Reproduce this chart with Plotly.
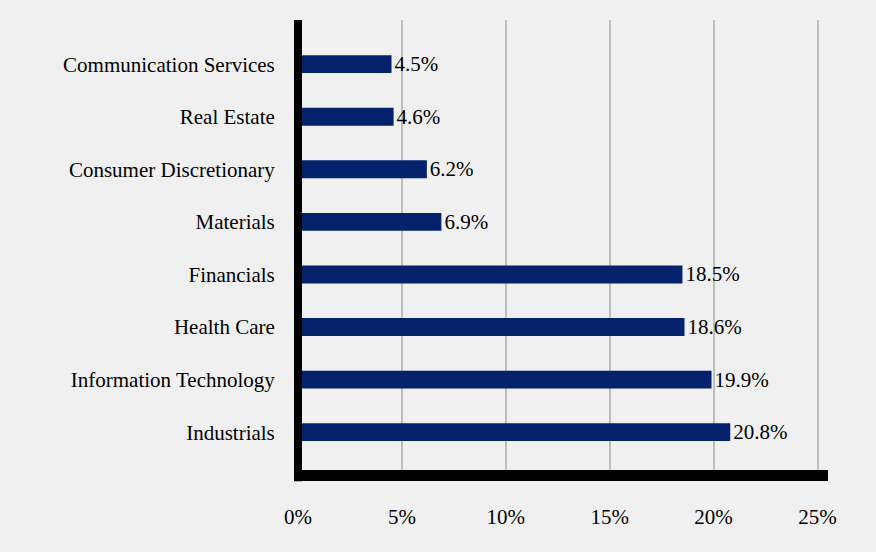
import plotly.graph_objects as go

sectors = ["Industrials", "Information Technology", "Health Care", "Financials",
           "Materials", "Consumer Discretionary", "Real Estate", "Communication Services"]
weights = [20.8, 19.9, 18.6, 18.5, 6.9, 6.2, 4.6, 4.5]
x_tick_vals = [0, 5, 10, 15, 20, 25]
x_tick_text = ["0%", "5%", "10%", "15%", "20%", "25%"]

font_family = "Liberation Serif, Times New Roman, serif"

fig = go.Figure(go.Bar(
    y=sectors,
    x=weights,
    orientation="h",
    width=0.34,
    marker=dict(color="#03226B", line=dict(width=0)),
    text=[f"{v:.1f}%" for v in weights],
    textposition="outside",
    constraintext="none",
    textfont=dict(family=font_family, size=21, color="#000000"),
    cliponaxis=False,
))

fig.update_layout(
    width=876, height=552,
    paper_bgcolor="#f0f0f0",
    plot_bgcolor="#f0f0f0",
    margin=dict(l=298, r=48, t=20, b=82),
    showlegend=False,
    font=dict(family=font_family, size=21, color="#000000"),
    xaxis=dict(
        range=[0, 25.505],
        tickvals=x_tick_vals,
        ticktext=x_tick_text,
        showgrid=True,
        gridcolor="#bfbfbf",
        gridwidth=2,
        zeroline=False,
        showline=True,
        linecolor="#000000",
        linewidth=11,
        ticks="outside",
        ticklen=18,
        tickcolor="rgba(0,0,0,0)",
        tickfont=dict(family=font_family, size=21, color="#000000"),
    ),
    yaxis=dict(
        type="category",
        range=[-0.72, 7.84],
        showgrid=False,
        zeroline=False,
        showline=False,
        ticks="outside",
        ticklen=18,
        tickcolor="rgba(0,0,0,0)",
        tickfont=dict(family=font_family, size=21, color="#000000"),
    ),
    shapes=[dict(
        type="line", xref="paper", yref="paper",
        x0=0, x1=0, y0=-0.025, y1=1,
        line=dict(color="#000000", width=8),
        layer="above",
    )],
)

fig.write_html(
    "out.html",
    config={"displayModeBar": False},
    post_script="document.body.style.margin='0';document.body.style.overflow='hidden';",
)
